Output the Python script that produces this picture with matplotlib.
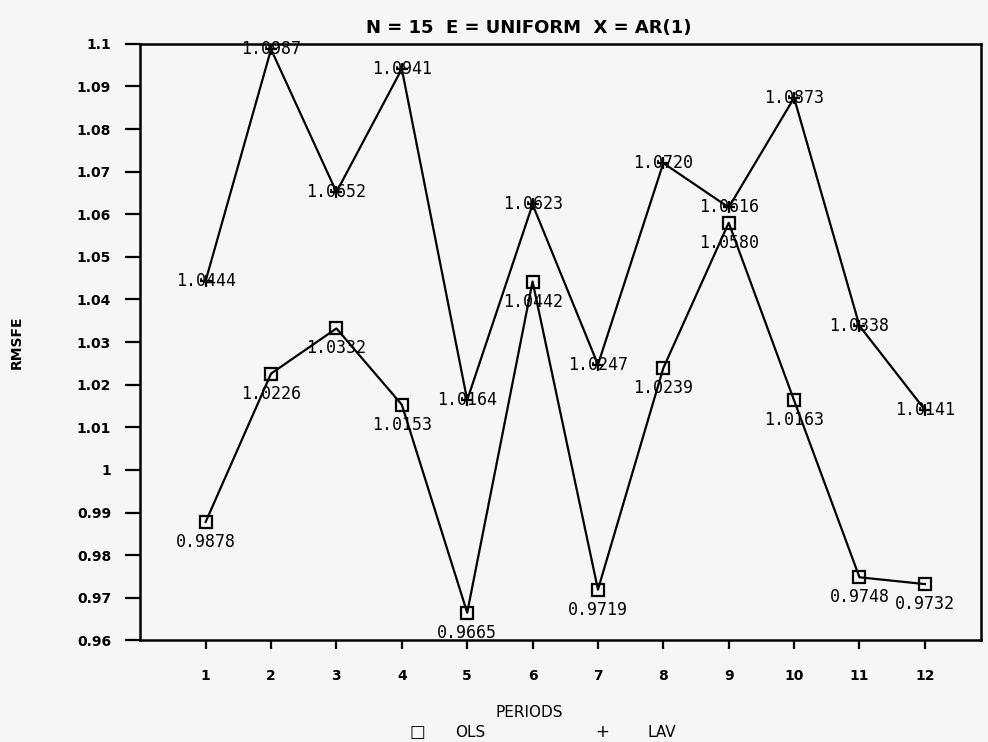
import numpy as np
import matplotlib.pyplot as plt

periods = np.arange(1, 13)
ols = [0.9878, 1.0226, 1.0332, 1.0153, 0.9665, 1.0442,
       0.9719, 1.0239, 1.0580, 1.0163, 0.9748, 0.9732]
lav = [1.0444, 1.0987, 1.0652, 1.0941, 1.0164, 1.0623,
       1.0247, 1.0720, 1.0616, 1.0873, 1.0338, 1.0141]
yticks = [0.96, 0.97, 0.98, 0.99, 1.0, 1.01, 1.02, 1.03,
          1.04, 1.05, 1.06, 1.07, 1.08, 1.09, 1.1]
ytick_labels = ["0.96", "0.97", "0.98", "0.99", "1", "1.01", "1.02", "1.03",
                "1.04", "1.05", "1.06", "1.07", "1.08", "1.09", "1.1"]

fig = plt.figure(figsize=(9.88, 7.42), dpi=100, facecolor="#f7f6f7")
ax = fig.add_axes([0.142, 0.137, 0.851, 0.804])
ax.set_facecolor("#f7f6f7")

ax.plot(periods, ols, color="black", lw=1.6, marker="s", ms=8,
        mfc="none", mec="black", mew=1.6, zorder=3)
ax.plot(periods, lav, color="black", lw=1.6, marker="+", ms=9,
        mew=1.6, zorder=3)

lbl_font = dict(family="DejaVu Sans Mono", fontsize=12, color="black")
for x, v in zip(periods, ols):
    ax.annotate(f"{v:.4f}", (x, v), xytext=(0, -20), textcoords="offset pixels",
                ha="center", va="center", zorder=4, **lbl_font)
for x, v in zip(periods, lav):
    ax.annotate(f"{v:.4f}", (x, v), xytext=(0, 0), textcoords="offset pixels",
                ha="center", va="center", zorder=4, **lbl_font)

ax.set_xlim(0, 12.86)
ax.set_ylim(0.96, 1.1)
ax.set_xticks(periods)
ax.set_xticklabels([str(p) for p in periods], fontsize=10, fontweight="bold")
ax.set_yticks(yticks)
ax.set_yticklabels(ytick_labels, fontsize=10, fontweight="bold")
ax.tick_params(axis="y", direction="out", length=11, width=1.6, pad=10)
ax.tick_params(axis="x", direction="out", length=6.5, width=1.6, pad=14)
for s in ax.spines.values():
    s.set_linewidth(1.8)

ax.set_ylabel("RMSFE", fontsize=10, fontweight="bold", labelpad=38)
fig.text(0.536, 0.040, "PERIODS", ha="center", va="center", fontsize=11)
fig.text(0.535, 0.962, "N = 15  E = UNIFORM  X = AR(1)", ha="center",
         va="center", fontsize=13, fontweight="bold")

# legend row under the axis title
fig.text(0.422, 0.013, "\u25a1", ha="center", va="center", fontsize=12,
         fontweight="bold")
fig.text(0.476, 0.013, "OLS", ha="center", va="center", fontsize=11)
fig.text(0.609, 0.013, "+", ha="center", va="center", fontsize=12)
fig.text(0.670, 0.013, "LAV", ha="center", va="center", fontsize=11)

fig.savefig("out.png", dpi=100, facecolor=fig.get_facecolor())
